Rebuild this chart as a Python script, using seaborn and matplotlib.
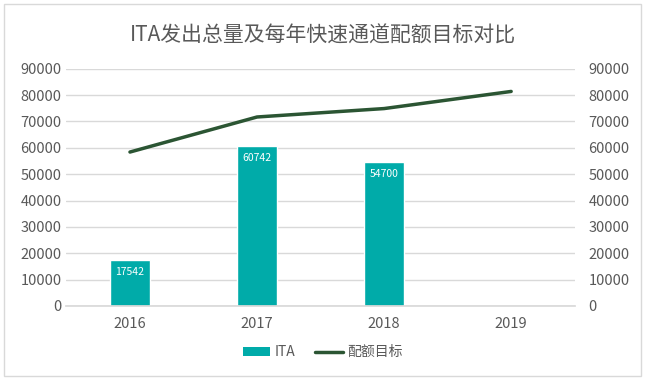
import numpy as np
import pandas as pd
import matplotlib
matplotlib.use("Agg")
import matplotlib.pyplot as plt
from matplotlib.patches import Patch, Rectangle
from matplotlib.lines import Line2D
import seaborn as sns

# chart data
years = ["2016", "2017", "2018", "2019"]
ita_counts = [17542, 60742, 54700, np.nan]
quota_targets = [58400, 71700, 74900, 81400]
title = "ITA发出总量及每年快速通道配额目标对比"

bar_color = "#00ABA9"
line_color = "#2B5533"
text_color = "#595959"
grid_color = "#D9D9D9"

sns.set_theme(style="white")
plt.rcParams["font.family"] = ["Noto Sans CJK SC", "DejaVu Sans"]

df = pd.DataFrame({"year": years, "ITA": ita_counts, "target": quota_targets})

fig = plt.figure(figsize=(6.45, 3.8), dpi=100)
ax = fig.add_axes([0.103, 0.195, 0.788, 0.624])

sns.barplot(data=df, x="year", y="ITA", order=years, color=bar_color,
            width=0.31, saturation=1, ax=ax, zorder=2)
ax.set_ylim(0, 90000)
ax.set_yticks(np.arange(0, 90001, 10000))
ax.yaxis.grid(True, color=grid_color, linewidth=1, zorder=0)
ax.set_axisbelow(True)
ax.set_xlabel("")
ax.set_ylabel("")
for s in ["top", "right", "left"]:
    ax.spines[s].set_visible(False)
ax.spines["bottom"].set_color(grid_color)
ax.tick_params(axis="both", colors=text_color, labelsize=10.5, length=0)
ax.tick_params(axis="x", pad=8)

# value labels inside bars
for bar, val in zip(ax.patches, ita_counts):
    if np.isnan(val):
        continue
    ax.text(bar.get_x() + bar.get_width() / 2, val - 4700, f"{int(val)}",
            ha="center", va="center", color="white", fontsize=7.5, zorder=3)

# secondary axis with quota target line
ax2 = ax.twinx()
sns.pointplot(data=df, x="year", y="target", order=years, color=line_color,
              markers="", linewidth=2.5, ax=ax2)
ax2.set_ylim(0, 90000)
ax2.set_yticks(np.arange(0, 90001, 10000))
ax2.set_ylabel("")
ax2.set_xlabel("")
for s in ax2.spines.values():
    s.set_visible(False)
ax2.tick_params(axis="y", colors=text_color, labelsize=10.5, length=0, pad=10)
ax2.set_xlim(-0.5, len(years) - 0.5)
ax.set_xlim(-0.5, len(years) - 0.5)

fig.text(0.5, 0.905, title, ha="center", va="center", fontsize=15, color=text_color)

handles = [Patch(facecolor=bar_color, edgecolor="none"),
           Line2D([0], [0], color=line_color, linewidth=2.5)]
fig.legend(handles, ["ITA", "配额目标"], loc="center", bbox_to_anchor=(0.5, 0.073),
           ncol=2, frameon=False, fontsize=10, labelcolor=text_color,
           handlelength=2.0, handleheight=0.6, columnspacing=1.4, handletextpad=0.3)

fig.patches.append(Rectangle((0.006, 0.01), 0.988, 0.98, transform=fig.transFigure,
                             fill=False, edgecolor=grid_color, linewidth=1))

fig.savefig("out.png", dpi=100, facecolor="white")
